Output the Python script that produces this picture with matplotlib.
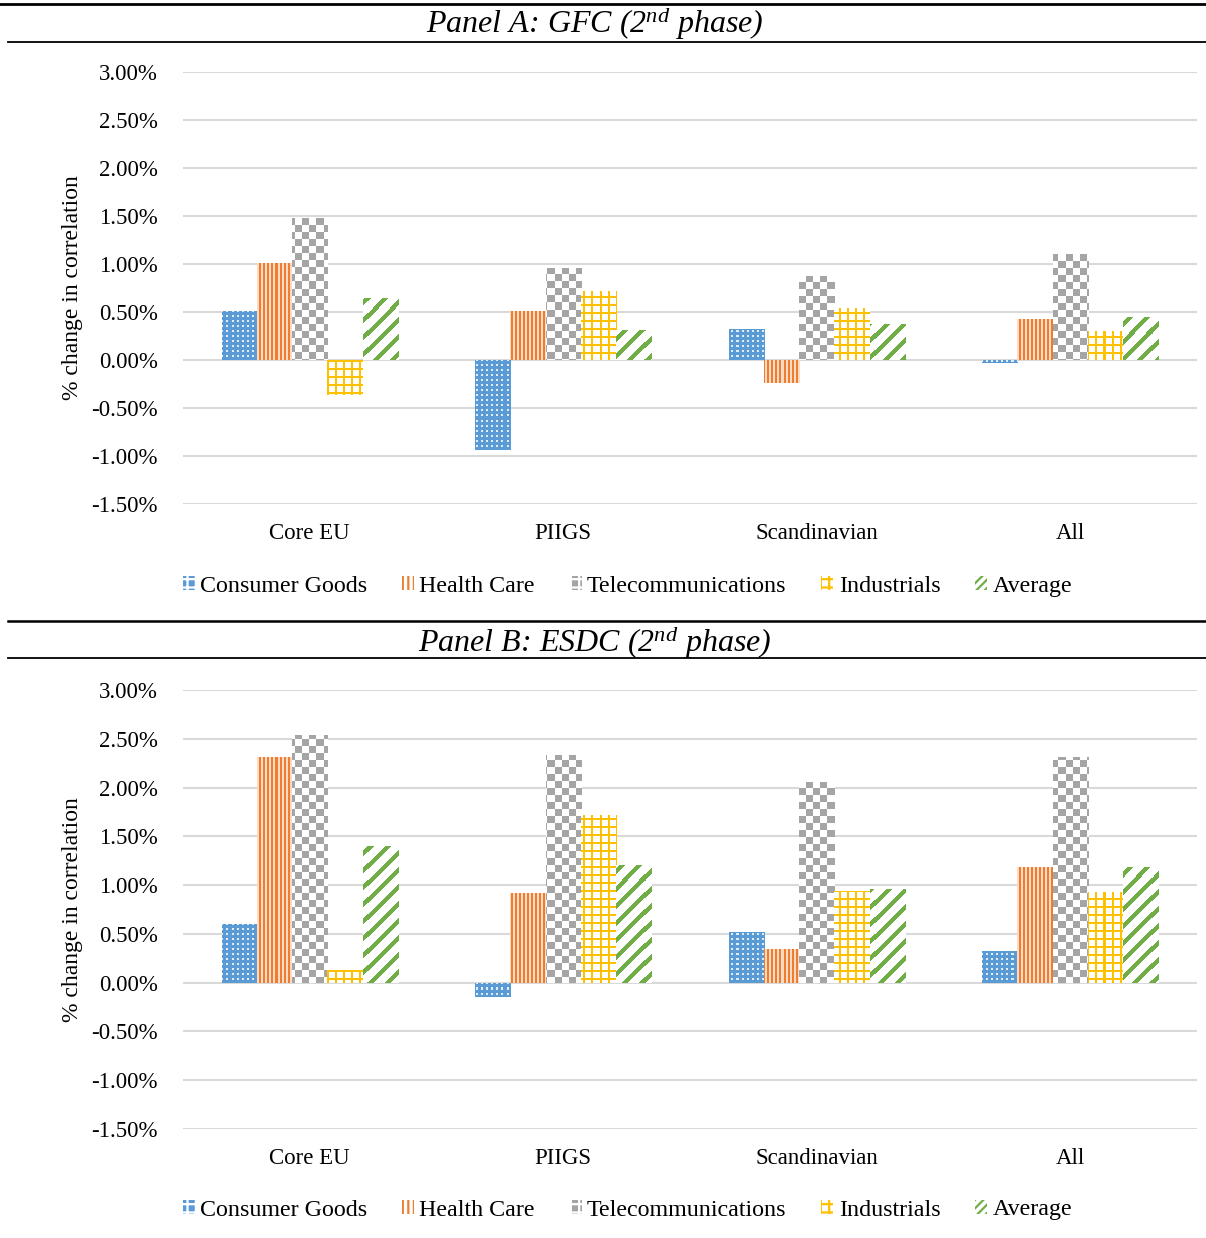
import numpy as np
import matplotlib
matplotlib.use("Agg")
import matplotlib.pyplot as plt
from matplotlib.patches import Patch
from matplotlib.lines import Line2D

plt.rcParams["font.family"] = ["Liberation Serif", "DejaVu Serif"]
plt.rcParams["mathtext.fontset"] = "custom"
plt.rcParams["mathtext.rm"] = "Liberation Serif:italic"
plt.rcParams["mathtext.it"] = "Liberation Serif:italic"
plt.rcParams["hatch.linewidth"] = 1.6

# data (% change in correlation)
regions = ["Core EU", "PIIGS", "Scandinavian", "All"]
sectors = ["Consumer Goods", "Health Care", "Telecommunications", "Industrials", "Average"]

gfc_consumer = [0.51, -0.94, 0.32, -0.03]
gfc_health = [1.01, 0.51, -0.24, 0.43]
gfc_telecom = [1.48, 0.96, 0.87, 1.10]
gfc_industrial = [-0.36, 0.715, 0.54, 0.30]
gfc_average = [0.65, 0.31, 0.375, 0.45]

esdc_consumer = [0.60, -0.15, 0.52, 0.32]
esdc_health = [2.31, 0.92, 0.345, 1.19]
esdc_telecom = [2.54, 2.33, 2.06, 2.31]
esdc_industrial = [0.13, 1.72, 0.94, 0.93]
esdc_average = [1.40, 1.21, 0.96, 1.19]

yticks = [-1.5, -1.0, -0.5, 0.0, 0.5, 1.0, 1.5, 2.0, 2.5, 3.0]

colors = ["#5B9BD5", "#ED7D31", "#A5A5A5", "#FFC000", "#70AD47"]


def rgb(c):
    return np.array(matplotlib.colors.to_rgb(c))


def texture(kind, h, w):
    yy, xx = np.mgrid[0:h, 0:w]
    img = np.ones((h, w, 3))
    if kind == 0:   # blue with small white dots
        img[:] = rgb(colors[0])
        mask = ((xx % 5) >= 3) & ((yy % 5) >= 3)
        img[mask] = [0.88, 0.93, 0.98]
    elif kind == 1:  # vertical stripes
        mask = (xx % 4) < 2
        img[mask] = rgb(colors[1])
        img[~mask] = [1.0, 0.86, 0.78]
    elif kind == 2:  # checkerboard
        mask = ((xx // 7) + (yy // 7)) % 2 == 0
        img[mask] = rgb(colors[2])
    elif kind == 3:  # grid
        mask = ((xx % 8) < 2) | ((yy % 8) < 2)
        img[mask] = rgb(colors[3])
    else:            # wide upward diagonal
        mask = ((xx + yy) % 17) < 6
        img[mask] = rgb(colors[4])
    return img


fig = plt.figure(figsize=(12.06, 12.38), dpi=100)
W, H = 1206, 1238


def fy(py):
    return 1 - py / H


def draw_panel(rect, series, title, title_y, rules, legend_y):
    ax = fig.add_axes(rect)
    x = np.arange(len(regions))
    bw = 0.139
    ax.set_xlim(-0.5, len(regions) - 0.5)
    ax.set_ylim(-1.5, 3.0)

    bb = ax.get_window_extent()
    ph, pw = int(round(bb.height)), int(round(bb.width))

    for i, vals in enumerate(series):
        bars = ax.bar(x + (i - 2) * bw, vals, bw, facecolor="none",
                      linewidth=0, zorder=2)
        tex = texture(i, ph, pw)
        for b in bars:
            im = ax.imshow(tex, extent=(0, 1, 0, 1), transform=ax.transAxes,
                           interpolation="nearest", aspect="auto", zorder=2)
            im.set_clip_path(b)

    ax.set_xlim(-0.5, len(regions) - 0.5)
    ax.set_ylim(-1.5, 3.0)
    ax.set_yticks(yticks)
    ax.set_yticklabels([f"{t:.2f}%" for t in yticks])
    ax.set_xticks(x)
    ax.set_xticklabels(regions)
    ax.tick_params(axis="both", length=0, labelsize=16.5)
    ax.tick_params(axis="y", pad=18)
    ax.tick_params(axis="x", pad=14)
    ax.grid(axis="y", color="#D9D9D9", linewidth=1.5, zorder=0.5)
    ax.set_axisbelow(True)
    for s in ax.spines.values():
        s.set_visible(False)
    ax.set_ylabel("% change in correlation", fontsize=17)
    ax.yaxis.set_label_coords(-0.0985, 0.5)

    handles = [
        Patch(facecolor=colors[0], edgecolor="white", hatch="++", linewidth=0),
        Patch(facecolor="white", edgecolor=colors[1], hatch="|||", linewidth=0),
        Patch(facecolor=colors[2], edgecolor="white", hatch="++", linewidth=0),
        Patch(facecolor="white", edgecolor=colors[3], hatch="++", linewidth=0),
        Patch(facecolor="white", edgecolor=colors[4], hatch="////", linewidth=0),
    ]
    fig.legend(handles, sectors, loc="center", ncol=5, frameon=False,
               bbox_to_anchor=(627.5 / W, fy(legend_y)), fontsize=17.3,
               handlelength=0.5, handleheight=0.55, handletextpad=0.22,
               columnspacing=1.45)

    fig.text(595 / W, fy(title_y), title, ha="center", va="center",
             fontsize=23, fontstyle="italic")
    for py, x0, lw in rules:
        fig.add_artist(Line2D([x0 / W, 1], [fy(py), fy(py)], color="black",
                              linewidth=lw, transform=fig.transFigure))
    return ax


draw_panel([183 / W, fy(504), 1014 / W, 432 / H],
           [gfc_consumer, gfc_health, gfc_telecom, gfc_industrial, gfc_average],
           r"Panel A: GFC (2$^{nd}$ phase)", 23,
           [(4, 0, 2.0), (42, 8, 1.3)], 586)

draw_panel([183 / W, fy(1129), 1014 / W, 439 / H],
           [esdc_consumer, esdc_health, esdc_telecom, esdc_industrial, esdc_average],
           r"Panel B: ESDC (2$^{nd}$ phase)", 642,
           [(621, 8, 1.8), (658, 8, 1.3)], 1210)

fig.savefig("out.png", dpi=100)
